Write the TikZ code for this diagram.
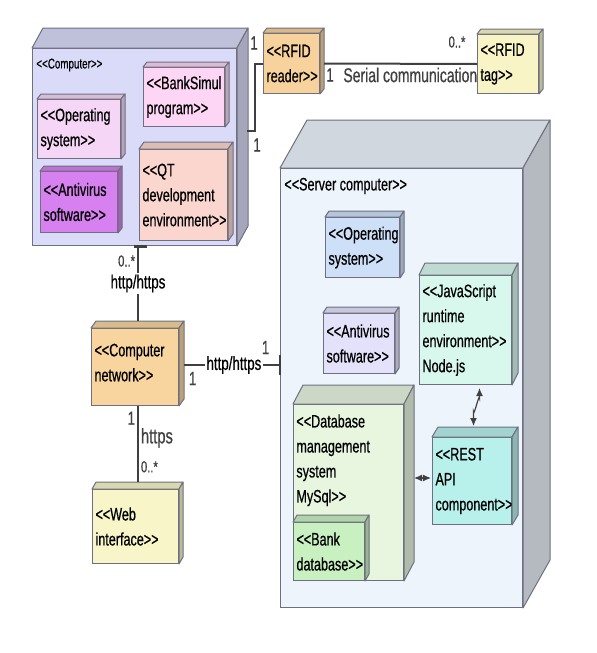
\documentclass[tikz,border=0pt]{standalone}
\usepackage{fontspec}
\setmainfont{Liberation Sans}[FakeStretch=0.7,FakeBold=0.6,Ligatures=TeXOff]
\usepackage{tikz}
\usetikzlibrary{arrows.meta,positioning,calc}

\hyphenpenalty=10000
\exhyphenpenalty=10000

\definecolor{boxline}{HTML}{6E7080}
\definecolor{conline}{HTML}{404040}
\definecolor{compfill}{HTML}{D9DBF8}
\definecolor{bankfill}{HTML}{FCD6F4}
\definecolor{osfill}{HTML}{F6D6F6}
\definecolor{avfill}{HTML}{D780F0}
\definecolor{qtfill}{HTML}{FAD6CE}
\definecolor{readerfill}{HTML}{F8D29C}
\definecolor{tagfill}{HTML}{F8F4C6}
\definecolor{serverfill}{HTML}{EEF4FC}
\definecolor{ossrvfill}{HTML}{CEE0F8}
\definecolor{avsrvfill}{HTML}{E4E2FA}
\definecolor{jsfill}{HTML}{D8F8EE}
\definecolor{dbfill}{HTML}{E8F6E0}
\definecolor{bankdbfill}{HTML}{C8F0C0}
\definecolor{restfill}{HTML}{B8F0EC}
\definecolor{netfill}{HTML}{F8D49E}
\definecolor{webfill}{HTML}{F8F6C8}

% top and side faces of a 3D node box
\newcommand{\boxdepth}[4]{%
  \filldraw[draw=boxline,line width=0.5pt,line join=round,fill=#4!88!black] (#1.north west) -- ++(#2,-#3) -- ($(#1.north east)+(#2,-#3)$) -- (#1.north east) -- cycle;
  \filldraw[draw=boxline,line width=0.5pt,line join=round,fill=#4!76!black] (#1.north east) -- ++(#2,-#3) -- ($(#1.south east)+(#2,-#3)$) -- (#1.south east) -- cycle;
}

\begin{document}
\begin{tikzpicture}[x=0.5pt,y=-0.5pt,
    box/.style={draw=boxline,line width=0.5pt,fill=#1,anchor=north west,inner xsep=1.5pt,inner ysep=0pt,align=left,font=\fontsize{9}{12.5}\selectfont},
    conn/.style={draw=conline,line width=1pt},
    arr/.style={draw=conline,line width=0.6pt,{Latex[length=4pt,width=3.5pt]}-{Latex[length=4pt,width=3.5pt]}},
    lbl/.style={fill=white,inner sep=1pt,font=\fontsize{9.5}{11}\selectfont},
    mult/.style={inner sep=1pt,text=conline,font=\fontsize{9.5}{11}\selectfont},
    multsmall/.style={inner sep=1pt,text=conline,font=\fontsize{8}{10}\selectfont}]
    \useasboundingbox (0,0) rectangle (597,653);

    %%%% Computer =====================================
    \node[box=compfill,text width=99pt,minimum height=98.5pt] (comp) at (32,48) {};
    \boxdepth{comp}{11}{20}{compfill}
    \node[anchor=west,inner sep=1pt,font=\fontsize{7}{8}\selectfont] (complbl) at (34,65) {<<Computer>>};

    \node[box=bankfill,text width=37.5pt,minimum height=29.5pt] (bank) at (143,67) {<<BankSimul\\program>>};
    \boxdepth{bank}{4}{5}{bankfill}
    \node[box=osfill,text width=38.5pt,minimum height=29.5pt] (os1) at (37,99) {<<Operating\\system>>};
    \boxdepth{os1}{4}{5}{osfill}
    \node[box=avfill,text width=35.5pt,minimum height=30.5pt] (av1) at (40,171) {<<Antivirus\\software>>};
    \boxdepth{av1}{4}{5}{avfill}
    \node[box=qtfill,text width=41pt,minimum height=45.5pt] (qt) at (139,149) {<<QT\\development\\environment>>};
    \boxdepth{qt}{5}{7}{qtfill}

    %%%% RFID =========================================
    \node[box=readerfill,text width=25pt,minimum height=30pt] (reader) at (263,33) {<<RFID\\reader>>};
    \boxdepth{reader}{4}{5}{readerfill}
    \node[box=tagfill,text width=27.5pt,minimum height=29.5pt] (tag) at (477,34) {<<RFID\\tag>>};
    \boxdepth{tag}{4}{5}{tagfill}

    %%%% Server computer ==============================
    \node[box=serverfill,text width=118pt,minimum height=219.5pt] (server) at (280,168) {};
    \boxdepth{server}{27}{48}{serverfill}
    \node[anchor=west,inner sep=1pt,font=\fontsize{9}{10}\selectfont] (srvlbl) at (282,186) {<<Server computer>>};

    \node[box=ossrvfill,text width=34pt,minimum height=30pt] (os2) at (325,217) {<<Operating\\system>>};
    \boxdepth{os2}{4}{6}{ossrvfill}
    \node[box=avsrvfill,text width=32.5pt,minimum height=30pt] (av2) at (323,313) {<<Antivirus\\software>>};
    \boxdepth{av2}{4}{6}{avsrvfill}
    \node[box=jsfill,text width=43pt,minimum height=54.5pt] (js) at (419,275) {<<JavaScript\\runtime\\environment>>\\Node.js};
    \boxdepth{js}{6}{12}{jsfill}
    \node[box=dbfill,text width=52pt,minimum height=88pt] (db) at (293,404) {};
    \boxdepth{db}{10}{19}{dbfill}
    \node[anchor=north west,inner sep=0pt,align=left,font=\fontsize{9}{12.5}\selectfont] (dbtext) at (296,414) {<<Database\\management\\system\\MySql>>};
    \node[box=bankdbfill,text width=32.5pt,minimum height=29pt] (bankdb) at (293,522) {<<Bank\\database>>};
    \boxdepth{bankdb}{4}{7}{bankdbfill}
    \node[box=restfill,text width=36.5pt,minimum height=43.5pt] (rest) at (432,437) {<<REST\\API\\component>>};
    \boxdepth{rest}{6}{10}{restfill}

    %%%% Network and web ==============================
    \node[box=netfill,text width=40.5pt,minimum height=38.5pt,text depth=17pt] (net) at (91,328) {<<Computer\\network>>};
    \boxdepth{net}{5}{7}{netfill}
    \node[box=webfill,text width=40pt,minimum height=37pt] (web) at (92,489) {<<Web\\interface>>};
    \boxdepth{web}{4}{7}{webfill}

    %%%% Connections ==================================
    \coordinate (comp-r) at (247,131);
    \draw[conn] (reader.west) -- ++(-8,0) |- (comp-r);
    \node[mult] (m-rd1) at (254,43) {1};
    \node[mult] (m-cp1) at (257,145) {1};

    \draw[conn] ($(reader.east)+(4,0)$) -- (tag.west);
    \node[mult] (m-rd2) at (330,75) {1};
    \node[anchor=west,inner sep=1pt,text=conline,font=\fontsize{10}{12}\selectfont] (serial) at (341,75) {Serial communication};
    \node[multsmall] (m-tag) at (457,42) {0..*};

    \coordinate (net-t) at ($(net.north)+(3,-7)$);
    \draw[conn] (net-t) -- (net-t |- comp.south)
        node[lbl,pos=0.5] {http/https}
        node[multsmall,pos=0.8,anchor=east] {0..*};
    \draw[conn,line width=1.5pt] ($(comp.south)+(-1,0)$) -- ($(comp.south)+(12,0)$);

    \coordinate (net-r) at ($(net.east)+(5,-2)$);
    \coordinate (srv-l) at (net-r -| server.west);
    \draw[conn] (net-r) -- (srv-l)
        node[lbl,pos=0.52] {http/https}
        node[mult,pos=0.09,below=2pt] {1}
        node[mult,pos=0.85,above=4pt] {1};
    \draw[conn,line width=1.2pt] ($(srv-l)+(0,-10)$) -- ($(srv-l)+(0,10)$);

    \coordinate (net-b) at ($(net.south)+(3,0)$);
    \coordinate (web-t) at ($(net-b |- web.north)+(0,-7)$);
    \draw[conn] (net-b) -- (web-t)
        node[mult,pos=0.16,anchor=east] {1}
        node[pos=0.42,anchor=west,inner sep=1pt,text=conline,font=\fontsize{10.5}{12}\selectfont] {https}
        node[multsmall,pos=0.8,anchor=west] {0..*};

    \coordinate (js-b) at ($(js.south)+(14,3)$);
    \coordinate (rest-t) at ($(rest.north)+(1.5,-11)$);
    \draw[arr] (js-b) -- ++(0,10) to[out=90,in=-90] ($(rest-t)+(0,-14)$) -- (rest-t);

    \coordinate (db-side) at ($(db.east)+(10,0)$);
    \coordinate (rest-l) at ($(rest.west)+(-1,-3)$);
    \draw[arr] (rest-l) -- (rest-l -| db-side);
\end{tikzpicture}
\end{document}
